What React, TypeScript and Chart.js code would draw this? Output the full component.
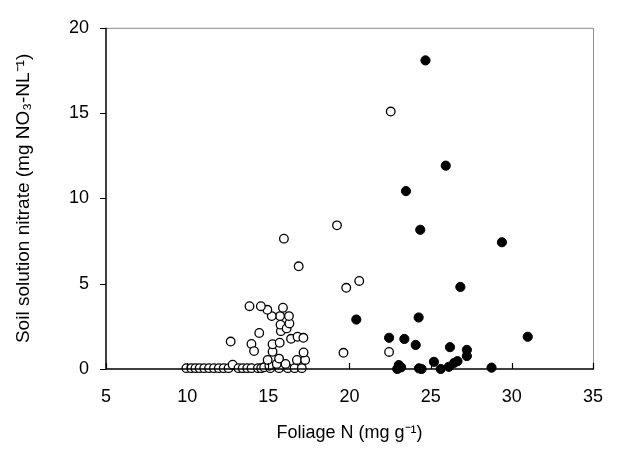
import React, { useEffect, useRef } from "react";
import { Chart, registerables } from "chart.js";

Chart.register(...registerables);

// Open circles
const openX = [9.95, 10.25, 10.51, 10.77, 11.05, 11.35, 11.65, 11.95, 12.25, 12.55, 12.8, 13.16, 13.42, 13.7, 13.96, 14.36, 14.56, 14.74, 15.12, 15.66, 16.2, 16.62, 17.06,
  15.06, 15.52, 16.06, 14.96, 15.66, 16.76, 17.27,
  15.26, 17.17, 13.96, 14.12, 15.26, 15.7, 16.4, 16.8, 17.16, 14.44, 15.77, 15.75, 16.13, 16.3, 16.27, 15.72, 15.21, 14.94, 14.54, 13.84, 15.9, 12.68,
  16.87, 15.96, 19.23, 19.8, 20.6, 19.63, 22.44, 22.54];
const openY = [0.05, 0.05, 0.05, 0.05, 0.05, 0.05, 0.05, 0.05, 0.05, 0.05, 0.25, 0.05, 0.05, 0.05, 0.05, 0.05, 0.05, 0.1, 0.05, 0.05, 0.05, 0.05, 0.05,
  0.19, 0.3, 0.3, 0.53, 0.61, 0.53, 0.53,
  1.01, 0.97, 1.47, 1.05, 1.45, 1.54, 1.77, 1.89, 1.83, 2.11, 2.22, 2.6, 2.38, 2.67, 3.1, 3.1, 3.1, 3.47, 3.68, 3.68, 3.59, 1.61,
  6.02, 7.64, 8.42, 4.76, 5.16, 0.95, 1.0, 15.09];

// Filled circles
const filledX = [24.68, 25.93, 23.48, 24.36, 29.39, 26.83, 24.26, 20.42, 22.44, 23.38, 24.08, 26.19, 30.98, 27.23, 27.23, 26.65, 26.45, 25.2, 26.12, 25.62, 23.04, 23.18, 22.94, 24.28, 24.44, 28.75];
const filledY = [18.09, 11.92, 10.43, 8.16, 7.43, 4.81, 3.02, 2.9, 1.83, 1.76, 1.41, 1.28, 1.89, 1.12, 0.76, 0.46, 0.36, 0.42, 0.13, 0.0, 0.23, 0.1, 0.0, 0.04, 0.0, 0.08];

const xTicks = [5, 10, 15, 20, 25, 30, 35];
const yTicks = [0, 5, 10, 15, 20];

const FONT = "'Liberation Sans', Arial, sans-serif";

const axesPlugin = {
  id: "axesPlugin",
  afterDatasetsDraw(chart: any) {
    const { ctx, chartArea } = chart;
    const { left, right, top, bottom } = chartArea;
    const xs = chart.scales.x;
    const ys = chart.scales.y;
    ctx.save();
    // light frame top/right
    ctx.strokeStyle = "#8a8a8a";
    ctx.lineWidth = 1;
    ctx.beginPath();
    ctx.moveTo(left, top + 0.5);
    ctx.lineTo(right + 0.5, top + 0.5);
    ctx.lineTo(right + 0.5, bottom);
    ctx.stroke();
    // main axes
    ctx.strokeStyle = "#000";
    ctx.lineWidth = 1.5;
    ctx.beginPath();
    ctx.moveTo(left, top);
    ctx.lineTo(left, bottom);
    ctx.lineTo(right + 1, bottom);
    ctx.stroke();
    ctx.lineWidth = 1.2;
    ctx.beginPath();
    for (const v of xTicks) {
      const px = Math.round(xs.getPixelForValue(v)) + 0.5;
      ctx.moveTo(px, bottom);
      ctx.lineTo(px, bottom - 6);
    }
    for (const v of yTicks) {
      const py = Math.round(ys.getPixelForValue(v)) + 0.5;
      ctx.moveTo(left, py);
      ctx.lineTo(left - 6, py);
    }
    ctx.stroke();
    ctx.restore();
  },
};

export default function App() {
  const ref = useRef<HTMLCanvasElement>(null);
  useEffect(() => {
    document.body.style.margin = "0";
    const openData = openX.map((x, i) => ({ x, y: openY[i] }));
    const filledData = filledX.map((x, i) => ({ x, y: filledY[i] }));
    const chart = new Chart(ref.current!, {
      type: "scatter",
      data: {
        datasets: [
          {
            data: openData,
            backgroundColor: "#ffffff",
            borderColor: "#000000",
            borderWidth: 1.3,
            pointRadius: 4.3,
            clip: false as any,
          },
          {
            data: filledData,
            backgroundColor: "#000000",
            borderColor: "#000000",
            borderWidth: 1,
            pointRadius: 4.6,
            clip: false as any,
          },
        ],
      },
      options: {
        animation: false,
        responsive: false,
        devicePixelRatio: 1,
        layout: { padding: { top: 20, right: 15, left: 0, bottom: 0 } },
        plugins: { legend: { display: false }, tooltip: { enabled: false } },
        scales: {
          x: {
            type: "linear",
            min: 5,
            max: 35,
            afterFit: (s: any) => { s.height = 91; },
            afterBuildTicks: (s: any) => { s.ticks = xTicks.map((v) => ({ value: v })); },
            grid: { display: false, drawTicks: false },
            border: { display: false },
            ticks: { color: "#000", font: { family: FONT, size: 18 }, padding: 17 },
            title: {
              display: true,
              text: "Foliage N (mg g\u207B\u00B9)",
              color: "#000",
              font: { family: FONT, size: 18 },
              padding: { top: 0, bottom: 16 },
            },
          },
          y: {
            type: "linear",
            min: 0,
            max: 20,
            afterFit: (s: any) => { s.width = 106; },
            afterBuildTicks: (s: any) => { s.ticks = yTicks.map((v) => ({ value: v })); },
            grid: { display: false, drawTicks: false },
            border: { display: false },
            ticks: { color: "#000", font: { family: FONT, size: 18 }, padding: 17 },
            title: {
              display: true,
              text: "Soil solution nitrate (mg NO\u2083-NL\u207B\u00B9)",
              color: "#000",
              font: { family: FONT, size: 19 },
              padding: { top: 12, bottom: 0 },
            },
          },
        },
      },
      plugins: [axesPlugin],
    });
    return () => chart.destroy();
  }, []);
  return <canvas ref={ref} width={620} height={460} style={{ display: "block" }} />;
}
